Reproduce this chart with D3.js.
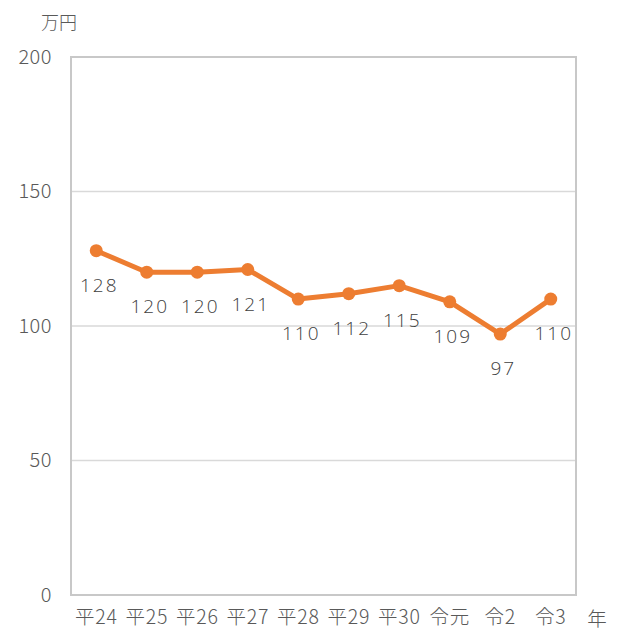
<!DOCTYPE html>
<html><head><meta charset="utf-8">
<script src="https://cdn.jsdelivr.net/npm/d3@7"></script>
<style>body{margin:0;background:#fff}svg{display:block}text{font-family:"Noto Sans CJK JP","Noto Sans",sans-serif}</style>
</head><body>
<script>
const categories = ["平24","平25","平26","平27","平28","平29","平30","令元","令2","令3"];
const values = [128,120,120,121,110,112,115,109,97,110];
const yTicks = [0,50,100,150,200];

const W=636,H=634;
const m={l:71,r:60,t:57,b:39};
const svg=d3.select("body").append("svg").attr("width",W).attr("height",H);
const x=d3.scaleBand().domain(categories).range([m.l,W-m.r]);
const y=d3.scaleLinear().domain([0,200]).range([H-m.b,m.t]);

const g=svg.append("g");
g.selectAll("line.grid").data(yTicks.filter(d=>d>0&&d<200)).join("line")
 .attr("x1",m.l).attr("x2",W-m.r).attr("y1",d=>y(d)).attr("y2",d=>y(d))
 .attr("stroke","#d9d9d9").attr("stroke-width",1.5);
g.append("rect").attr("x",m.l).attr("y",m.t).attr("width",W-m.r-m.l).attr("height",H-m.b-m.t)
 .attr("fill","none").attr("stroke","#c8c8c8").attr("stroke-width",2);

const yAxis=d3.axisLeft(y).tickValues(yTicks).tickSize(0).tickPadding(19);
const ya=svg.append("g").attr("transform",`translate(${m.l},0)`).call(yAxis);
ya.select(".domain").remove();
ya.selectAll("text").attr("fill","#595959").style("font-size","20px").style("font-weight","300")
 .style("letter-spacing","0.5px").style("font-family","'Noto Sans CJK JP','Noto Sans',sans-serif");

const xAxis=d3.axisBottom(x).tickSize(0).tickPadding(15);
const xa=svg.append("g").attr("transform",`translate(0,${H-m.b})`).call(xAxis);
xa.select(".domain").remove();
xa.selectAll("text").attr("fill","#595959").style("font-size","19.5px").style("font-weight","300").style("letter-spacing","0.8px");

svg.append("text").attr("x",597).attr("y",626).attr("text-anchor","middle").attr("fill","#595959").style("font-size","19.5px").style("font-weight","300").text("年");
svg.append("text").attr("x",59).attr("y",29).attr("text-anchor","middle").attr("fill","#595959").style("font-size","18px").style("font-weight","300").text("万円");

const cx=d=>x(d)+x.bandwidth()/2;
const line=d3.line().x((d,i)=>cx(categories[i])).y(d=>y(d));
svg.append("path").datum(values).attr("d",line).attr("fill","none").attr("stroke","#ED7D31").attr("stroke-width",5).attr("stroke-linejoin","round");
svg.selectAll("circle.pt").data(values).join("circle")
 .attr("cx",(d,i)=>cx(categories[i])).attr("cy",d=>y(d)).attr("r",6.5).attr("fill","#ED7D31");
svg.selectAll("text.lbl").data(values).join("text")
 .attr("x",(d,i)=>cx(categories[i])+3).attr("y",d=>y(d)+41)
 .attr("text-anchor","middle").attr("fill","#404040").style("font-size","19px")
 .style("font-family","'Open Sans','Noto Sans',sans-serif").style("font-weight","300")
 .style("letter-spacing","2px").text(d=>d);
</script>
</body></html>
